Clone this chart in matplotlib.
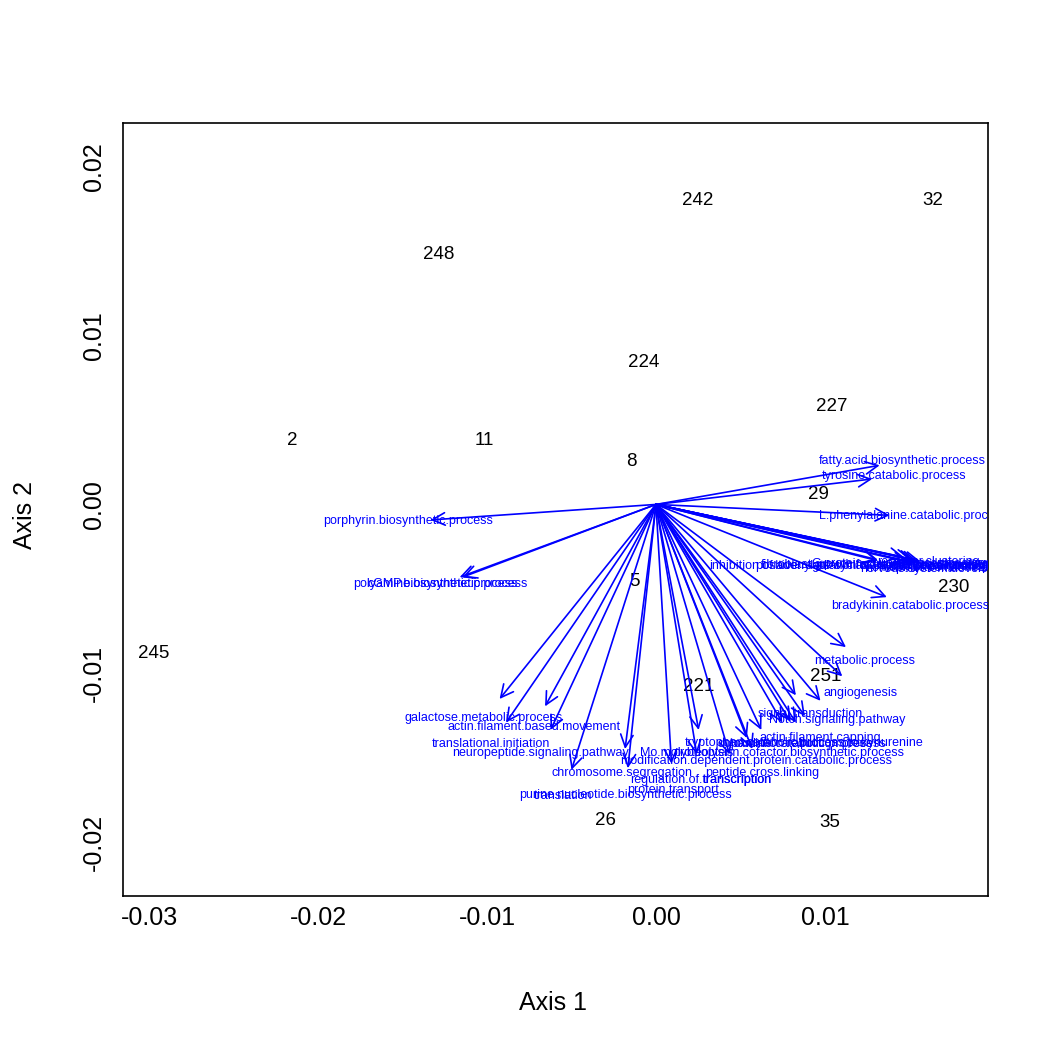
import matplotlib
matplotlib.use('Agg')
import matplotlib.pyplot as plt
import numpy as np

plt.rcParams['font.family'] = ['Liberation Sans', 'DejaVu Sans']

# sample scores (axis 1, axis 2)
site_labels = ['242', '32', '248', '224', '227', '2', '11', '8', '29', '5',
               '230', '245', '251', '221', '26', '35']
site_x = [0.00249, 0.01639, -0.01284, -0.00071, 0.01041, -0.02154, -0.01018,
          -0.00148, 0.00959, -0.00130, 0.01763, -0.02970, 0.01006, 0.00254,
          -0.00296, 0.01030]
site_y = [0.01801, 0.01801, 0.01481, 0.00841, 0.00581, 0.00379, 0.00379,
          0.00255, 0.00059, -0.00456, -0.00492, -0.00883, -0.01019, -0.01079,
          -0.01873, -0.01884]

# variable loadings (label positions); arrows drawn to loading / 1.1
var_labels = [
    'porphyrin.biosynthetic.process',
    'polyamine.biosynthetic.process',
    'cGMP.biosynthetic.process',
    'galactose.metabolic.process',
    'actin.filament.based.movement',
    'translational.initiation',
    'neuropeptide.signaling.pathway',
    'chromosome.segregation',
    'translation',
    'purine.nucleotide.biosynthetic.process',
    'protein.transport',
    'regulation.of.transcription',
    'transcription',
    'modification.dependent.protein.catabolic.process',
    'peptide.cross.linking',
    'Mo.molybdopterin.cofactor.biosynthetic.process',
    'proteolysis',
    'tryptophan.catabolic.process.to.kynurenine',
    'dopamine.catabolic.process',
    'oxidation.reduction.process',
    'actin.filament.capping',
    'signal.transduction',
    'Notch.signaling.pathway',
    'angiogenesis',
    'metabolic.process',
    'bradykinin.catabolic.process',
    'L.phenylalanine.catabolic.process',
    'tyrosine.catabolic.process',
    'fatty.acid.biosynthetic.process',
    'inhibition.of.adenylate.cyclase.activity.by.G.protein.signaling.pathway',
    'fibroblast.growth.factor.receptor.signaling.pathway',
    'receptor.clustering',
    'positive.regulation.of.transcription.from.RNA.polymerase.II.promoter',
    'G.protein.coupled.receptor.signaling.pathway',
    'homophilic.cell.adhesion',
    'synaptic.transmission',
    'calcium.ion.transport',
    'nervous.system.development',
]
var_x = [-0.01467, -0.01278, -0.01260, -0.01018, -0.00722, -0.00976, -0.00686,
         -0.00201, -0.00550, -0.00183, 0.00101, 0.00266, 0.00479, 0.00592,
         0.00627, 0.00686, 0.00278, 0.00876, 0.00822, 0.00911, 0.00970,
         0.00911, 0.01071, 0.01213, 0.01237, 0.01503, 0.01521, 0.01408,
         0.01456, 0.01444, 0.01444, 0.01615, 0.01700, 0.01660, 0.01640,
         0.01680, 0.01720, 0.01690]
var_y = [-0.00101, -0.00474, -0.00474, -0.01268, -0.01316, -0.01422, -0.01470,
         -0.01594, -0.01730, -0.01719, -0.01689, -0.01630, -0.01630, -0.01523,
         -0.01594, -0.01470, -0.01470, -0.01416, -0.01422, -0.01422, -0.01381,
         -0.01244, -0.01280, -0.01120, -0.00930, -0.00604, -0.00071, 0.00166,
         0.00255, -0.00367, -0.00361, -0.00344, -0.00367, -0.00355, -0.00375,
         -0.00362, -0.00370, -0.00380]

fig = plt.figure(figsize=(7, 7), dpi=150)
ax = fig.add_axes([123/1050, 1-896/1050, 865/1050, 773/1050])
ax.set_xlim(-0.03154, 0.01965)
ax.set_ylim(-0.0232, 0.0226)

for lab, x, y in zip(site_labels, site_x, site_y):
    ax.text(x, y, lab, ha='center', va='center', fontsize=9, color='black',
            clip_on=True)

for lab, x, y in zip(var_labels, var_x, var_y):
    ax.annotate('', xy=(x/1.1, y/1.1), xytext=(0, 0),
                arrowprops=dict(arrowstyle='->,head_length=0.6,head_width=0.3',
                                color='blue', lw=0.8, shrinkA=0, shrinkB=0,
                                mutation_scale=10))
    ax.text(x, y, lab, ha='center', va='center', fontsize=6.0, color='blue',
            clip_on=True)

ax.set_xticks([-0.03, -0.02, -0.01, 0.00, 0.01])
ax.set_xticklabels(['-0.03', '-0.02', '-0.01', '0.00', '0.01'])
ax.set_yticks([-0.02, -0.01, 0.00, 0.01, 0.02])
ax.set_yticklabels(['-0.02', '-0.01', '0.00', '0.01', '0.02'], rotation=90,
                   va='center')
ax.tick_params(length=0, labelsize=12)
ax.tick_params(axis='x', pad=5)
ax.tick_params(axis='y', pad=8)
for s in ax.spines.values():
    s.set_linewidth(0.8)

fig.text(553/1050, 1-1003/1050, 'Axis 1', ha='center', va='center', fontsize=12)
fig.text(25/1050, 1-515/1050, 'Axis 2', ha='center', va='center', fontsize=12,
         rotation=90)

fig.savefig('out.png', dpi=150, facecolor='white')
